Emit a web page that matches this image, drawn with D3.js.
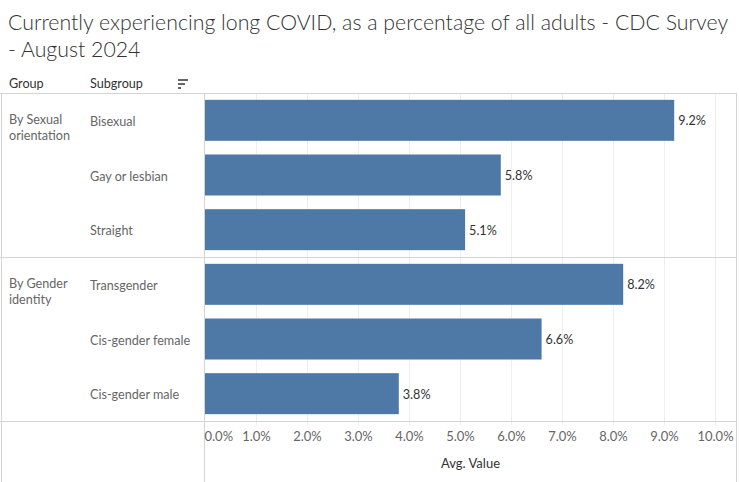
<!DOCTYPE html>
<html>
<head>
<meta charset="utf-8">
<script src="https://cdn.jsdelivr.net/npm/d3@7"></script>
<style>
  body { margin: 0; background: #fff; }
  text { font-family: Lato, "Open Sans", sans-serif; }
</style>
</head>
<body>
<script>
// data
var groups = ["By Sexual orientation", "By Sexual orientation", "By Sexual orientation",
              "By Gender identity", "By Gender identity", "By Gender identity"];
var subgroups = ["Bisexual", "Gay or lesbian", "Straight",
                 "Transgender", "Cis-gender female", "Cis-gender male"];
var values = [9.2, 5.8, 5.1, 8.2, 6.6, 3.8];
var groupLines = {
  "By Sexual orientation": ["By Sexual", "orientation"],
  "By Gender identity": ["By Gender", "identity"]
};
var ticks = [0, 1, 2, 3, 4, 5, 6, 7, 8, 9, 10];

var width = 739, height = 482;
var plotLeft = 205, plotRight = 715, plotTop = 93, plotBottom = 421, frameRight = 736;
var labelSize = "12.6px";

var svg = d3.select("body").append("svg")
    .attr("width", width)
    .attr("height", height);

// title
var title = svg.append("text")
    .attr("fill", "#333")
    .style("font-size", "21.3px")
    .style("font-weight", 300);
title.append("tspan").attr("x", 8).attr("y", 30)
    .text("Currently experiencing long COVID, as a percentage of all adults - CDC Survey");
title.append("tspan").attr("x", 8).attr("y", 57)
    .text("- August 2024");

// header
svg.append("text").attr("x", 9).attr("y", 88)
    .attr("fill", "#333").style("font-size", labelSize).text("Group");
svg.append("text").attr("x", 90).attr("y", 88)
    .attr("fill", "#333").style("font-size", labelSize).text("Subgroup");
// sort icon
[10, 7, 3].forEach(function(w, i) {
  svg.append("rect").attr("x", 178).attr("y", 79 + i * 4)
      .attr("width", w).attr("height", 2).attr("fill", "#666");
});

var x = d3.scaleLinear().domain([0, 10]).range([plotLeft, plotRight]);
var y = d3.scaleBand()
    .domain(subgroups)
    .range([plotTop, plotBottom])
    .paddingInner(0.25)
    .paddingOuter(0.125);

// gridlines
svg.append("g").selectAll("line")
    .data(ticks.slice(1))
    .enter().append("line")
    .attr("x1", function(d) { return x(d) + 0.5; })
    .attr("x2", function(d) { return x(d) + 0.5; })
    .attr("y1", plotTop)
    .attr("y2", plotBottom + 4)
    .attr("stroke", "#eeeeee")
    .attr("stroke-width", 1);

// bars
svg.selectAll(".bar")
    .data(values)
    .enter().append("rect")
    .attr("class", "bar")
    .attr("x", x(0))
    .attr("y", function(d, i) { return y(subgroups[i]); })
    .attr("width", function(d) { return x(d) - x(0); })
    .attr("height", y.bandwidth())
    .attr("fill", "#4e79a7");

// value labels
svg.selectAll(".val")
    .data(values)
    .enter().append("text")
    .attr("class", "val")
    .attr("x", function(d) { return x(d) + 4; })
    .attr("y", function(d, i) { return y(subgroups[i]) + y.bandwidth() / 2; })
    .attr("dy", "0.4em")
    .attr("fill", "#333")
    .style("font-size", labelSize)
    .text(function(d) { return d.toFixed(1) + "%"; });

// subgroup labels
svg.selectAll(".sub")
    .data(subgroups)
    .enter().append("text")
    .attr("class", "sub")
    .attr("x", 90)
    .attr("y", function(d) { return y(d) + y.bandwidth() / 2; })
    .attr("dy", "0.45em")
    .attr("fill", "#666")
    .style("font-size", labelSize)
    .text(function(d) { return d; });

// group labels
var groupNames = Array.from(new Set(groups));
groupNames.forEach(function(g) {
  var first = subgroups[groups.indexOf(g)];
  var t = svg.append("text")
      .attr("fill", "#666")
      .style("font-size", labelSize);
  groupLines[g].forEach(function(line, j) {
    t.append("tspan")
        .attr("x", 9)
        .attr("y", y(first) + y.bandwidth() / 2 + 4 + j * 16)
        .text(line);
  });
});

// frame lines
var frame = svg.append("g").attr("stroke", "#d4d4d4").attr("stroke-width", 1);
frame.append("line").attr("x1", 0).attr("x2", frameRight).attr("y1", plotTop + 0.5).attr("y2", plotTop + 0.5);
frame.append("line").attr("x1", 0).attr("x2", frameRight).attr("y1", plotBottom + 0.5).attr("y2", plotBottom + 0.5);
// separator between groups
var sepY = Math.round((y(subgroups[2]) + y.bandwidth() + y(subgroups[3])) / 2) + 0.5;
frame.append("line").attr("x1", 0).attr("x2", frameRight).attr("y1", sepY).attr("y2", sepY);
frame.append("line").attr("x1", 1.5).attr("x2", 1.5).attr("y1", plotTop).attr("y2", height);
frame.append("line").attr("x1", plotLeft - 0.5).attr("x2", plotLeft - 0.5).attr("y1", plotTop).attr("y2", height);
frame.append("line").attr("x1", frameRight + 0.5).attr("x2", frameRight + 0.5).attr("y1", plotTop).attr("y2", height);

// x axis
var axis = svg.append("g")
    .attr("transform", "translate(0," + plotBottom + ")")
    .call(d3.axisBottom(x).tickValues(ticks).tickSize(0).tickPadding(11)
        .tickFormat(function(d) { return d.toFixed(1) + "%"; }));
axis.select(".domain").remove();
axis.selectAll("text")
    .attr("fill", "#666")
    .style("font-size", "13px")
    .style("font-family", "Lato, sans-serif")
    .attr("text-anchor", function(d) { return d === 0 ? "start" : "middle"; })
    .attr("x", function(d) { return d === 0 ? -1 : 0; });

svg.append("text")
    .attr("x", (plotLeft + frameRight) / 2)
    .attr("y", 468)
    .attr("text-anchor", "middle")
    .attr("fill", "#333")
    .style("font-size", "13px")
    .text("Avg. Value");
</script>
</body>
</html>
